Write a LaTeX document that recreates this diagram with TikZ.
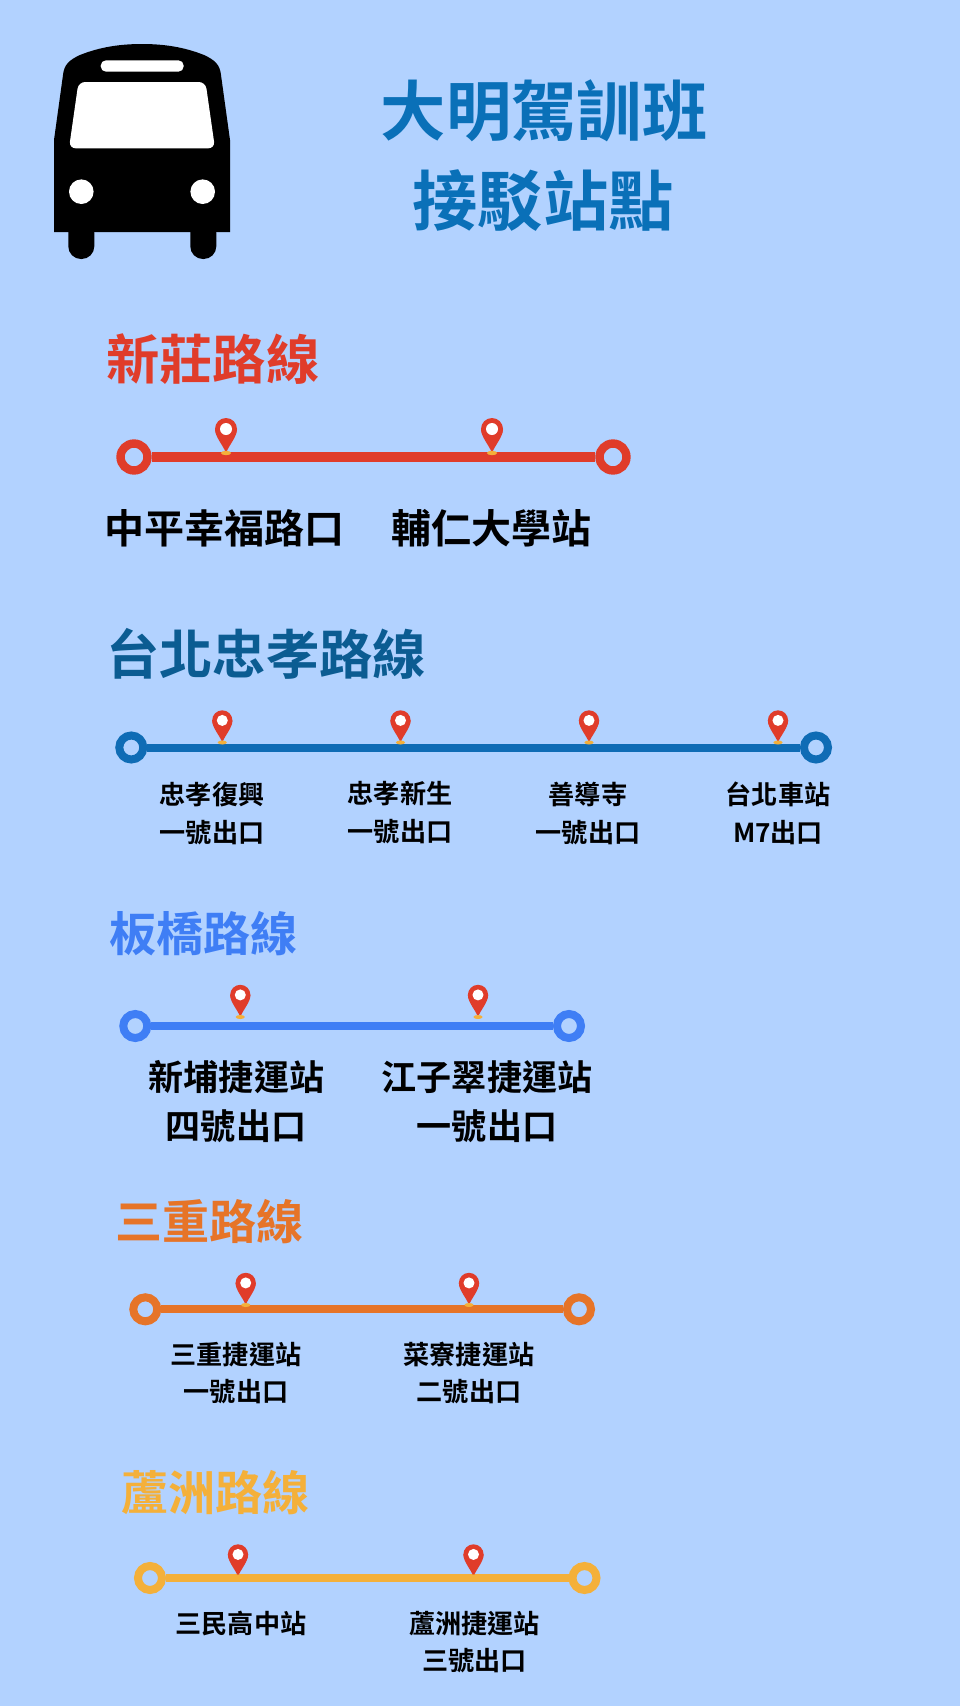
\documentclass[tikz,border=0pt]{standalone}
\usepackage{fontspec}
\setmainfont{Noto Sans CJK TC}[BoldFont={* Bold}]
\definecolor{bgblue}{HTML}{B2D2FF}
\definecolor{headblue}{HTML}{0A70B8}
\definecolor{rred}{HTML}{E03C2A}
\definecolor{rdark}{HTML}{0B5C92}
\definecolor{rnavy}{HTML}{0F6CB5}
\definecolor{rblue}{HTML}{3F7EF5}
\definecolor{rorange}{HTML}{E67428}
\definecolor{ryellow}{HTML}{F4B03A}
\tikzset{
  routetitle/.style={inner sep=0pt,font=\bfseries\fontsize{40}{40}\selectfont},
  smalltitle/.style={inner sep=0pt,font=\bfseries\fontsize{35.3}{35.3}\selectfont},
  headtitle/.style={inner sep=0pt,font=\bfseries\fontsize{49}{49}\selectfont,text=headblue},
  bigstop/.style={inner sep=0pt,align=center,font=\bfseries\fontsize{26.3}{26.3}\selectfont},
  midstop/.style={inner sep=0pt,align=center,font=\bfseries\fontsize{30}{36.5}\selectfont},
  smallstop/.style={inner sep=0pt,align=center,font=\bfseries\fontsize{19.6}{28}\selectfont},
  endring/.style={circle,draw,inner sep=0pt,minimum size=18pt,line width=6pt},
  smallpin/.style={scale=.92},
  pics/pin/.style={code={
    \fill[rred] (0,0) .. controls (-3,-8) and (-11,-16) .. (-11,-24) -- (11,-24) .. controls (11,-16) and (3,-8) .. (0,0);
    \fill[rred] (0,-24) circle [radius=11];
    \fill[white] (0,-24) circle [radius=6];
    \fill[ryellow] (0,0) ellipse [x radius=5,y radius=2.2];
  }},
}
\begin{document}
\begin{tikzpicture}[x=.75pt,y=-.75pt]

      \useasboundingbox (0,0) rectangle (960,1706);
      \fill[bgblue] (0,0) rectangle (960,1706);

      % the bus
      \fill (54,232) -- (54,140) -- (63,75) .. controls (64,65) and (69,60) .. (80,55) .. controls (100,47) and (120,44) .. (142,44)
        .. controls (164,44) and (184,47) .. (204,55) .. controls (215,60) and (220,65) .. (221,75) -- (230,140) -- (230,232) -- cycle;
      \fill[rounded corners=9.5pt] (68.3,220) rectangle (94.3,259);
      \fill[rounded corners=9.5pt] (190.3,220) rectangle (216.3,259);
      \fill[white,rounded corners=5pt] (78.5,82) -- (205.5,82) -- (215,148.3) -- (69,148.3) -- cycle;
      \fill[white,rounded corners=4pt] (100.7,60.3) rectangle (183.7,71.7);
      \fill[white] (81.3,191.7) circle [radius=12.3];
      \fill[white] (202.7,191.7) circle [radius=12.3];

      \node[headtitle] (head1) at (544,111) {大明駕訓班};
      \node[headtitle] (head2) at (543,201) {接駁站點};

      \begin{scope}[every node/.style={anchor=west}]
        \node[routetitle,text=rred]    (title1) at (106,359)  {新莊路線};
        \node[routetitle,text=rdark]   (title2) at (106,654)  {台北忠孝路線};
        \node[smalltitle,text=rblue]   (title3) at (109,934)  {板橋路線};
        \node[smalltitle,text=rorange] (title4) at (115,1222) {三重路線};
        \node[smalltitle,text=ryellow] (title5) at (121,1493) {蘆洲路線};
      \end{scope}

      \begin{scope}[every node/.style={endring}]
        \node[draw=rred,minimum size=20.2pt,line width=6.3pt] (a1) at (134,457)  {};
        \node[draw=rred,minimum size=20.2pt,line width=6.3pt] (a2) at (613,457)  {};
        \node[draw=rnavy]   (b1) at (131.3,747.5) {};
        \node[draw=rnavy]   (b2) at (816,747.5)   {};
        \node[draw=rblue]   (c1) at (135.3,1026)  {};
        \node[draw=rblue]   (c2) at (569,1026)    {};
        \node[draw=rorange] (d1) at (145.3,1309.3) {};
        \node[draw=rorange] (d2) at (579,1309.3)  {};
        \node[draw=ryellow] (e1) at (150,1578)    {};
        \node[draw=ryellow] (e2) at (584.5,1578)  {};
      \end{scope}

      \draw[rred,line width=7.5pt]  (a1) -- (a2);
      \draw[rnavy,line width=6pt]   (b1) -- (b2);
      \draw[rblue,line width=6pt]   (c1) -- (c2);
      \draw[rorange,line width=6pt] (d1) -- (d2);
      \draw[ryellow,line width=6pt] (e1) -- (e2);

      \pic at (226,453) {pin};
      \pic at (492,453) {pin};
      \pic[smallpin] at (222.3,742.5) {pin};
      \pic[smallpin] at (400.5,742.5) {pin};
      \pic[smallpin] at (589,742.5) {pin};
      \pic[smallpin] at (778,742.5) {pin};
      \pic[smallpin] at (240.3,1017) {pin};
      \pic[smallpin] at (478,1017) {pin};
      \pic[smallpin] at (245.7,1305) {pin};
      \pic[smallpin] at (469,1305) {pin};
      \pic[smallpin] at (238,1576.5) {pin};
      \pic[smallpin] at (473.5,1576.5) {pin};

      \node[midstop] (a3) at (224.5,528) {中平幸福路口};
      \node[midstop] (a4) at (491.5,528) {輔仁大學站};

      \begin{scope}[every node/.style={smallstop}]
        \node (b3) at (212,813.5)  {忠孝復興\\一號出口};
        \node (b4) at (400,812.5)  {忠孝新生\\一號出口};
        \node (b5) at (588,813.5)  {善導寺\\一號出口};
        \node (b6) at (778,813.5)  {台北車站\\M7出口};
        \node (d3) at (236,1373) {三重捷運站\\一號出口};
        \node (d4) at (469,1373) {菜寮捷運站\\二號出口};
        \node (e3) at (241,1624) {三民高中站};
        \node (e4) at (474.5,1642) {蘆洲捷運站\\三號出口};
      \end{scope}

      \begin{scope}[every node/.style={bigstop}]
        \node (c3) at (236.5,1077)  {新埔捷運站};
        \node (c4) at (236,1126)  {四號出口};
        \node (c5) at (487,1077)  {江子翠捷運站};
        \node (c6) at (487,1126)  {一號出口};
      \end{scope}

    \end{tikzpicture}
\end{document}
